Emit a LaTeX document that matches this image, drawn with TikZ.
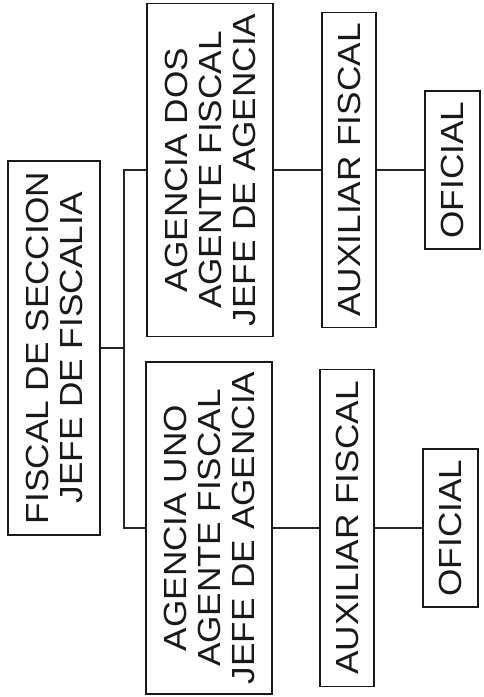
\documentclass[tikz,border=0pt]{standalone}
\usepackage{fontspec}
\setmainfont{Liberation Sans}[FakeStretch=1.1]
\begin{document}
\begin{tikzpicture}[x=1pt,y=-1pt,
  box/.style={draw=black!90, line width=1.6pt, rotate=90, inner sep=0pt,
    align=center, text=black!90, font=\fontsize{32}{34}\selectfont},
  link/.style={draw=black!85, line width=1.3pt}]
\useasboundingbox (0,0) rectangle (484,697);
\node[box, minimum width=374pt, minimum height=92pt] (root) at (54,348)
  {FISCAL DE SECCION\\JEFE DE FISCALIA};
\node[box, minimum width=333pt, minimum height=126pt] (dos) at (210,170)
  {AGENCIA DOS\\AGENTE FISCAL\\JEFE DE AGENCIA};
\node[box, minimum width=332pt, minimum height=126pt] (uno) at (209,528)
  {AGENCIA UNO\\AGENTE FISCAL\\JEFE DE AGENCIA};
\node[box, minimum width=315pt, minimum height=54pt] (auxdos) at (349,170)
  {AUXILIAR FISCAL};
\node[box, minimum width=317pt, minimum height=54pt] (auxuno) at (347,528)
  {AUXILIAR FISCAL};
\node[box, minimum width=158pt, minimum height=55pt] (ofdos) at (452.5,170)
  {OFICIAL};
\node[box, minimum width=158pt, minimum height=55pt] (ofuno) at (450.5,528)
  {OFICIAL};
\coordinate (j) at (124,348);
\draw[link] (root) -- (j);
\draw[link] (dos) -| (j) |- (uno);
\draw[link] (dos) -- (auxdos);
\draw[link] (auxdos) -- (ofdos);
\draw[link] (uno) -- (auxuno);
\draw[link] (auxuno) -- (ofuno);
\end{tikzpicture}
\end{document}
